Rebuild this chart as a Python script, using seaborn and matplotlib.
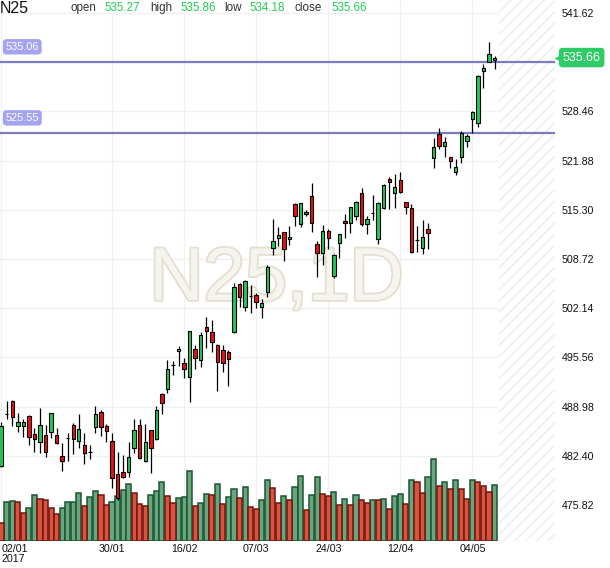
import numpy as np
import pandas as pd
import matplotlib
matplotlib.use("Agg")
import matplotlib.pyplot as plt
import matplotlib.patheffects as pe
import matplotlib.transforms as mtransforms
from matplotlib import font_manager
import seaborn as sns

# -----------------------------
# Data
# -----------------------------
symbol = "N25"
interval = "1D"

opens = [481.03, 487.98, 489.69, 486.42, 486.42, 487.72, 485.27, 484.28, 485.18, 485.62,
         485.18, 482.37, 484.72, 486.51, 484.42, 483.84, 482.94, 486.29, 488.21, 486.38,
         484.37, 479.92, 480.19, 480.19, 483.40, 486.51, 481.70, 485.85, 484.60, 490.62,
         491.33, 494.53, 496.37, 494.77, 492.98, 496.64, 495.17, 499.58, 498.95, 497.21,
         496.55, 496.28, 498.95, 505.33, 502.26, 503.76, 503.90, 502.26, 504.34, 510.15,
         511.49, 512.29, 511.35, 516.03, 513.36, 514.70, 517.14, 510.68, 509.48, 512.46,
         506.44, 510.82, 513.80, 513.57, 514.51, 517.50, 513.36, 514.90, 511.35, 515.50,
         519.38, 517.50, 519.28, 516.30, 515.50, 511.25, 510.15, 512.69, 522.19, 525.40,
         523.83, 522.32, 520.39, 522.32, 524.50, 527.40, 526.87, 533.90, 535.11, 535.27]
highs = [486.96, 489.77, 489.86, 488.16, 487.28, 487.80, 486.07, 488.75, 486.51, 488.12,
         486.07, 484.07, 485.40, 486.74, 487.99, 485.40, 483.84, 489.06, 488.52, 486.65,
         485.40, 482.95, 482.50, 484.28, 487.32, 487.32, 486.61, 485.90, 489.06, 490.76,
         495.21, 495.12, 497.08, 495.44, 499.10, 497.21, 498.99, 500.92, 500.56, 497.30,
         497.17, 496.55, 505.47, 505.47, 505.91, 505.24, 504.21, 503.33, 507.91, 514.03,
         512.96, 512.35, 513.13, 516.17, 516.25, 515.27, 518.84, 511.12, 513.26, 512.69,
         509.35, 512.10, 514.70, 515.72, 516.45, 518.17, 514.47, 517.28, 516.38, 518.70,
         519.73, 520.05, 520.35, 516.35, 516.03, 513.13, 513.93, 513.49, 524.86, 526.28,
         525.08, 522.40, 522.05, 525.84, 525.40, 528.51, 533.30, 534.76, 537.70, 535.86]
lows = [480.94, 487.28, 486.38, 485.62, 484.95, 483.84, 482.95, 482.81, 482.28, 484.82,
        483.97, 480.40, 481.74, 482.59, 483.40, 481.30, 481.97, 485.49, 485.04, 484.28,
        478.05, 476.49, 479.38, 479.51, 482.73, 481.92, 481.61, 480.14, 484.51, 487.95,
        490.84, 493.20, 494.41, 492.84, 489.63, 494.00, 494.31, 496.85, 496.32, 491.10,
        493.56, 491.73, 498.78, 502.34, 501.80, 501.45, 502.20, 500.87, 503.68, 509.25,
        510.46, 508.49, 510.55, 513.13, 512.96, 514.51, 512.37, 506.27, 507.91, 510.05,
        506.14, 508.81, 511.57, 512.15, 513.93, 513.13, 512.02, 513.93, 510.72, 515.37,
        515.37, 515.58, 517.59, 514.70, 509.48, 509.69, 509.35, 510.01, 520.85, 523.43,
        522.40, 520.85, 519.95, 521.60, 523.74, 525.53, 526.41, 531.63, 535.06, 534.18]
closes = [486.38, 488.00, 487.55, 486.88, 486.96, 484.95, 484.68, 486.51, 482.95, 488.08,
          484.07, 481.66, 484.74, 484.60, 485.94, 482.73, 482.95, 487.99, 486.29, 485.75,
          479.47, 476.71, 479.60, 482.19, 485.85, 482.06, 484.20, 483.40, 488.52, 489.50,
          493.96, 494.54, 496.64, 493.96, 499.05, 495.52, 498.51, 499.05, 497.62, 494.90,
          494.77, 495.30, 505.01, 503.68, 505.77, 503.77, 502.93, 502.79, 507.69, 511.12,
          511.93, 510.01, 511.62, 514.47, 516.17, 514.96, 513.49, 509.48, 512.50, 511.49,
          509.25, 512.02, 513.49, 515.63, 516.38, 513.36, 514.03, 514.91, 516.17, 518.62,
          519.06, 518.31, 517.72, 515.63, 509.61, 511.26, 511.62, 512.15, 523.74, 523.87,
          524.33, 521.78, 520.98, 525.53, 525.17, 528.34, 533.19, 534.22, 536.14, 535.66]

volumes = [17.7, 38.7, 39.7, 38.7, 27.7, 32.7, 45.7, 42.0, 40.7, 32.7,
           26.7, 32.7, 38.7, 38.7, 47.7, 34.7, 43.7, 49.7, 45.7, 35.7,
           38.7, 44.7, 50.7, 56.7, 47.7, 36.7, 34.7, 45.7, 49.7, 58.7,
           44.7, 37.7, 42.7, 43.7, 69.7, 34.7, 37.7, 46.7, 45.7, 56.7,
           36.7, 43.7, 51.7, 42.7, 53.7, 33.7, 31.7, 40.7, 60.7, 52.7,
           37.7, 44.7, 40.7, 53.7, 65.3, 30.7, 45.7, 63.7, 46.7, 44.7,
           48.7, 35.7, 41.7, 35.7, 45.7, 40.7, 37.7, 40.7, 40.7, 41.7,
           31.7, 44.7, 46.7, 36.7, 60.7, 58.7, 47.7, 63.7, 81.7, 54.7,
           58.7, 51.7, 60.7, 51.7, 41.7, 60.7, 58.7, 54.7, 48.7, 55.7]
# 1 = green volume bar, 0 = red volume bar
volume_up = [0, 1, 1, 0, 0, 1, 1, 0, 0, 0,
             0, 1, 1, 1, 1, 0, 1, 1, 0, 0,
             1, 1, 1, 1, 0, 0, 0, 1, 1, 1,
             0, 0, 1, 1, 1, 0, 1, 1, 0, 1,
             0, 1, 1, 0, 1, 0, 0, 1, 1, 0,
             0, 1, 0, 1, 1, 0, 1, 1, 0, 0,
             1, 0, 1, 0, 1, 0, 0, 1, 0, 1,
             0, 1, 1, 0, 1, 0, 0, 1, 1, 0,
             1, 0, 1, 0, 0, 1, 0, 0, 0, 1]

price_ticks = [475.82, 482.40, 488.98, 495.56, 502.14, 508.72, 515.30, 521.88, 528.46, 535.04, 541.62]
date_ticks = [0, 20, 33, 46, 59, 72, 85]
date_labels = ["02/01\n2017", "30/01", "16/02", "07/03", "24/03", "12/04", "04/05"]
level_lines = [535.06, 525.55]
last_open, last_high, last_low, last_close = 535.27, 535.86, 534.18, 535.66

# -----------------------------
# Style
# -----------------------------
sns.set_theme(style="white")
plt.rcParams['font.family'] = ['Liberation Sans', 'DejaVu Sans']
plt.rcParams['hatch.linewidth'] = 1.0

installed = {f.name for f in font_manager.fontManager.ttflist}
mark_font = 'Liberation Sans Narrow' if 'Liberation Sans Narrow' in installed else 'Liberation Sans'
mark_size = 63 if mark_font == 'Liberation Sans Narrow' else 54

GREEN = '#1fca5a'
RED = '#ea1010'
VOL_GREEN, VOL_GREEN_EDGE = '#68a67f', '#1d5532'
VOL_RED, VOL_RED_EDGE = '#d9533f', '#6e1710'
LEVEL = '#7b7bc4'
TAG_GREEN = '#2fcb66'

df = pd.DataFrame({"open": opens, "high": highs, "low": lows, "close": closes,
                   "volume": volumes, "vol_up": volume_up})
df["idx"] = np.arange(len(df))
df["body_low"] = df[["open", "close"]].min(axis=1)
df["body_h"] = (df["close"] - df["open"]).abs()
df["color"] = np.where(df["close"] >= df["open"], GREEN, RED)

W, H = 610, 568
fig = plt.figure(figsize=(W / 100, H / 100), dpi=100, facecolor='white')
ax = fig.add_axes([0, 27 / H, 555 / W, 541 / H])
axv = ax.twinx()   # volume layer
axc = ax.twinx()   # candle layer

# -----------------------------
# Volume (seaborn)
# -----------------------------
up = df[df["vol_up"] == 1]
down = df[df["vol_up"] == 0]
sns.barplot(data=up, x="idx", y="volume", native_scale=True, color=VOL_GREEN,
            edgecolor=VOL_GREEN_EDGE, linewidth=1.1, width=0.92, saturation=1,
            errorbar=None, ax=axv)
sns.barplot(data=down, x="idx", y="volume", native_scale=True, color=VOL_RED,
            edgecolor=VOL_RED_EDGE, linewidth=1.1, width=0.92, saturation=1,
            errorbar=None, ax=axv)
axv.set_ylim(0, 541)
axv.set_yticks([])
axv.set_xlabel("")
axv.set_ylabel("")

# -----------------------------
# Candles
# -----------------------------
axc.vlines(df["idx"], df["low"], df["high"], color='black', lw=0.9, zorder=2)
axc.bar(df["idx"], df["body_h"], bottom=df["body_low"], width=0.62,
        color=df["color"], edgecolor='black', linewidth=0.8, zorder=3)

for lvl in level_lines:
    axc.axhline(lvl, color=LEVEL, lw=1.6, zorder=1)
    axc.annotate(f"{lvl:.2f}", xy=(0, lvl), xycoords=('axes fraction', 'data'),
                 xytext=(4, 11), textcoords='offset points', ha='left', va='center',
                 color='white', fontsize=7.8,
                 bbox=dict(boxstyle='round,pad=0.25,rounding_size=0.35', fc='#a3a3f2', ec='none'))

# last price tag on the right
axc.annotate(f"{last_close:.2f}", xy=(1, last_close), xycoords=('axes fraction', 'data'),
             xytext=(5.5, 0), textcoords='offset points', ha='left', va='center',
             color='white', fontsize=9, annotation_clip=False, zorder=5,
             bbox=dict(boxstyle='round,pad=0.3,rounding_size=0.3', fc=TAG_GREEN, ec='none'))
tag_tr = mtransforms.blended_transform_factory(axc.transAxes, axc.transData)
axc.plot([1.006], [last_close], marker='<', ms=6, color=TAG_GREEN, mec='none',
         transform=tag_tr, clip_on=False, zorder=5)

# watermark
axc.text(49.66, 503.23, f"{symbol},{interval}", ha='center', va='baseline',
         fontsize=mark_size, family=mark_font, color='#f6f4ee', zorder=0.5,
         path_effects=[pe.withStroke(linewidth=2.5, foreground='#e3dece')])

# -----------------------------
# Axes, grid, future area
# -----------------------------
ylim = (471.00, 543.36)
ax.set_ylim(ylim)
axc.set_ylim(ylim)
axc.set_yticks([])

ax.axvspan(len(df) - 0.2, 99.9, facecolor='white', edgecolor='#ececec',
           hatch='///', lw=0, zorder=1)

ax.set_xlim(-0.21, 99.9)
ax.set_xticks(date_ticks)
ax.set_xticklabels(date_labels, linespacing=1.0)
ax.get_xticklabels()[0].set_ha('left')
ax.set_yticks(price_ticks)
ax.set_yticklabels(["" if abs(t - 535.04) < 0.01 else f"{t:.2f}" for t in price_ticks])
ax.yaxis.tick_right()
ax.tick_params(axis='y', length=0, pad=5, labelsize=7.7, labelcolor='#111')
ax.tick_params(axis='x', length=0, pad=2.5, labelsize=7.7, labelcolor='#111')
ax.set_axisbelow(True)
ax.grid(True, color='#f1f1f1', lw=1)

for a in (ax, axv, axc):
    for s in a.spines.values():
        s.set_visible(False)

# -----------------------------
# Header
# -----------------------------
fig.text(0, 1 - 1 / H, symbol, ha='left', va='top', fontsize=11.5, color='#111')
header = [("open", 70.5, '#333'), (f"{last_open:.2f}", 104.3, '#22cc55'),
          ("high", 150, '#333'), (f"{last_high:.2f}", 180, '#22cc55'),
          ("low", 224.5, '#333'), (f"{last_low:.2f}", 249.5, '#22cc55'),
          ("close", 294.5, '#333'), (f"{last_close:.2f}", 331, '#22cc55')]
for txt, px, col in header:
    fig.text(px / W, 1 - 11 / H, txt, ha='left', va='baseline', fontsize=8.4, color=col)

fig.savefig("out.png", dpi=100, facecolor='white')
